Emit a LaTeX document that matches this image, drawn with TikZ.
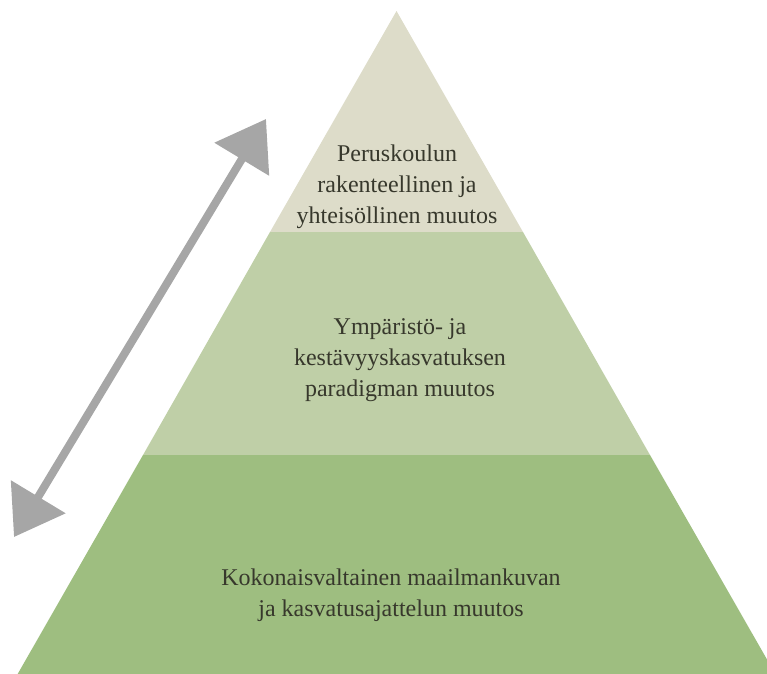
\documentclass[tikz,border=0pt]{standalone}
\usepackage{fontspec}
\setmainfont{Liberation Serif}
\usetikzlibrary{arrows.meta}
\definecolor{layertop}{RGB}{221,220,201}
\definecolor{layermid}{RGB}{191,207,167}
\definecolor{layerbot}{RGB}{158,190,128}
\definecolor{txtcol}{RGB}{55,56,44}
\definecolor{arrowgray}{RGB}{166,166,166}
\tikzset{
  layertext/.style={align=center, text=txtcol, font=\fontsize{24}{31}\selectfont, inner sep=0pt},
  twoway/.style={draw=arrowgray, line width=8pt, {Triangle[length=47pt,width=62pt]}-{Triangle[length=47pt,width=62pt]}}
}
\begin{document}
\begin{tikzpicture}[x=1pt,y=-1pt]
\useasboundingbox (0,0) rectangle (767,673);
\begin{scope}
\clip (0,0) rectangle (767,673);
% pyramid: apex (396.5,11), half-slope 0.57
\fill[layertop] (396.5,11) -- (523,232) -- (270,232) -- cycle;
\fill[layermid] (270,232) -- (523,232) -- (650,455) -- (143,455) -- cycle;
\fill[layerbot] (143,455) -- (650,455) -- (776.5,676) -- (16.5,676) -- cycle;
\end{scope}
\node[layertext] (t1) at (397,187) {Peruskoulun\\rakenteellinen ja\\yhteisöllinen muutos};
\node[layertext] (t2) at (400,360) {Ympäristö- ja\\kestävyyskasvatuksen\\paradigman muutos};
\node[layertext] (t3) at (391,595) {Kokonaisvaltainen maailmankuvan\\ja kasvatusajattelun muutos};
\coordinate (lo) at (14,537);
\coordinate (hi) at (266,119);
\draw[twoway] (lo) -- (hi);
\end{tikzpicture}
\end{document}
